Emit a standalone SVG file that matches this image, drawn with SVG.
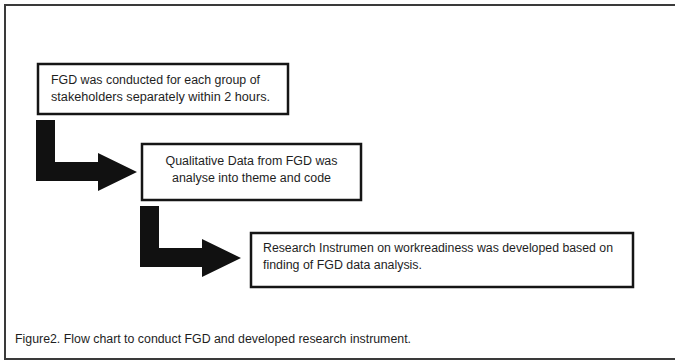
<svg xmlns="http://www.w3.org/2000/svg" xmlns:xlink="http://www.w3.org/1999/xlink" width="675" height="361" viewBox="0 0 675 361">
<style>
.frame{fill:none;stroke:#3a3a3a;stroke-width:2}
.box{fill:#fff;stroke:#151515;stroke-width:2.5}
.t{font-family:"Liberation Sans",Arial,sans-serif;font-size:12px;fill:#1e1e1e}
.arrow{fill:#111}
</style>
<defs>
<path id="elbow" d="M0,0 H19 V42 H62 V33 L101,52 L62,71 V61 H0 Z"/>
</defs>
<rect width="675" height="361" fill="#fff"/>
<path class="frame" d="M680,5 H5 V359 H680"/>
<g id="connectors" class="arrow">
<use xlink:href="#elbow" href="#elbow" transform="translate(36,120)"/>
<use xlink:href="#elbow" href="#elbow" transform="translate(140,206)"/>
</g>
<g id="node1">
<rect class="box" x="38" y="64" width="250" height="50"/>
<text class="t" x="51" y="84" textLength="209" lengthAdjust="spacingAndGlyphs">FGD was conducted for each group of</text>
<text class="t" x="51" y="101" textLength="219" lengthAdjust="spacingAndGlyphs">stakeholders separately within 2 hours.</text>
</g>
<g id="node2">
<rect class="box" x="142" y="144" width="219" height="56"/>
<text class="t" x="251.5" y="165" text-anchor="middle" textLength="172" lengthAdjust="spacingAndGlyphs">Qualitative Data from FGD was</text>
<text class="t" x="251.5" y="182" text-anchor="middle" textLength="159" lengthAdjust="spacingAndGlyphs">analyse into theme and code</text>
</g>
<g id="node3">
<rect class="box" x="251" y="233" width="382" height="54"/>
<text class="t" x="263" y="252" textLength="350" lengthAdjust="spacingAndGlyphs">Research Instrumen on workreadiness was developed based on</text>
<text class="t" x="263" y="269" textLength="159" lengthAdjust="spacingAndGlyphs">finding of FGD data analysis.</text>
</g>
<g id="caption">
<text class="t" x="15" y="343" textLength="396" lengthAdjust="spacingAndGlyphs">Figure2. Flow chart to conduct FGD and developed research instrument.</text>
</g>
</svg>
